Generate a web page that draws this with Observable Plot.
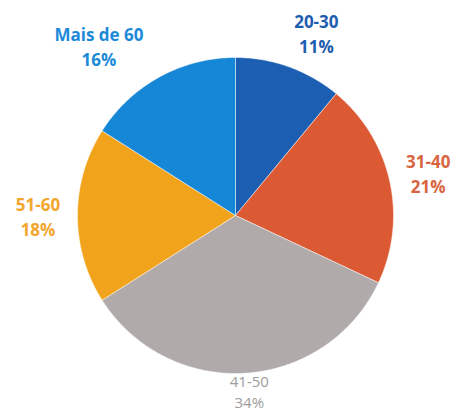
<!DOCTYPE html>
<html>
<head>
<meta charset="utf-8">
<script src="https://cdn.jsdelivr.net/npm/d3@7"></script>
<script src="https://cdn.jsdelivr.net/npm/@observablehq/plot@0.6"></script>
<style>
  html, body { margin: 0; padding: 0; background: #fff; }
  #chart svg { display: block; }
</style>
</head>
<body>
<div id="chart"></div>
<script>
// Data
const categories = ["20-30", "31-40", "41-50", "51-60", "Mais de 60"];
const percents = [11, 21, 34, 18, 16];
const sliceColors = ["#1c5eb2", "#dc5a33", "#b0aaaa", "#f1a31b", "#1686d7"];
const labelColors = ["#1f5db0", "#d8653f", "#9c9c9c", "#f2a62e", "#1c8ad8"];
const labelWeights = ["bold", "bold", "normal", "bold", "bold"];

// Layout
const W = 451, H = 414;
const cx = 235, cy = 215, R = 158;
const FONT = "'Open Sans', sans-serif";
const FS = 17, FS_NORMAL = 15;

const pie = d3.pie().sort(null).value(d => d)(percents);

// Slice outlines in unit coordinates
const slicePts = [];
pie.forEach((p, i) => {
  const key = categories[i];
  slicePts.push({key, color: sliceColors[i], x: 0, y: 0});
  const steps = Math.max(2, Math.ceil((p.endAngle - p.startAngle) / (Math.PI / 180)));
  for (let s = 0; s <= steps; s++) {
    const a = p.startAngle + (p.endAngle - p.startAngle) * s / steps;
    slicePts.push({key, color: sliceColors[i], x: Math.sin(a), y: -Math.cos(a)});
  }
  slicePts.push({key, color: sliceColors[i], x: 0, y: 0});
});

// Text width measurement for label placement
const ctx = document.createElement("canvas").getContext("2d");
function textWidth(str, weight) {
  ctx.font = `${weight} ${FS}px ${FONT}`;
  return Math.max(...str.split("\n").map(l => ctx.measureText(l).width));
}

// Labels
const labels = pie.map((p, i) => {
  const a = (p.startAngle + p.endAngle) / 2;
  const s = Math.sin(a), c = Math.cos(a);
  const text = categories[i] + "\n" + percents[i] + "%";
  const r = c < -0.5 ? 1.11 : (c > 0.5 ? 1.23 : 1.25);
  const w = textWidth(text, labelWeights[i]);
  const shift = Math.abs(c) > 0.5 ? s * w : 0; // push top/bottom labels sideways
  return {
    text,
    x: s * r + shift / R,
    y: -c * r,
    color: labelColors[i],
    weight: labelWeights[i]
  };
});

const chart = Plot.plot({
  width: W,
  height: H,
  margin: 0,
  x: {domain: [-cx / R, (W - cx) / R], range: [0, W], axis: null},
  y: {domain: [-cy / R, (H - cy) / R], range: [0, H], axis: null},
  color: {type: "identity"},
  style: {fontFamily: FONT, background: "#fff"},
  marks: [
    Plot.line(slicePts, {x: "x", y: "y", z: "key", fill: "color", stroke: "#ffffff", strokeWidth: 0.8, strokeOpacity: 0.6, curve: "linear"}),
    Plot.text(labels.filter(d => d.weight === "bold"), {
      x: "x", y: "y", text: "text", fill: "color",
      fontWeight: "bold", fontSize: FS, lineHeight: 1.47, textAnchor: "middle"
    }),
    Plot.text(labels.filter(d => d.weight === "normal"), {
      x: "x", y: "y", text: "text", fill: "color",
      fontWeight: "normal", fontSize: FS_NORMAL, lineHeight: 1.45, textAnchor: "middle"
    })
  ]
});
document.getElementById("chart").appendChild(chart);
</script>
</body>
</html>
